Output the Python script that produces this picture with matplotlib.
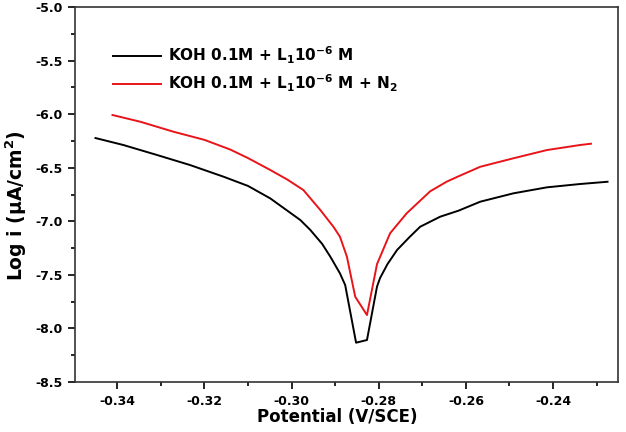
import numpy as np
import matplotlib
matplotlib.use("Agg")
from matplotlib import pyplot as plt
from matplotlib.ticker import MultipleLocator

# Courbes de polarisation
pot_koh = [-0.3450, -0.3386, -0.3309, -0.3233, -0.3156, -0.3100, -0.3049, -0.2980,
           -0.2957, -0.2930, -0.2911, -0.2889, -0.2877, -0.2852, -0.2827, -0.2804,
           -0.2797, -0.2780, -0.2758, -0.2730, -0.2705, -0.2659, -0.2617, -0.2567,
           -0.2491, -0.2414, -0.2338, -0.2275]
log_koh = [-6.223, -6.288, -6.381, -6.475, -6.584, -6.670, -6.786, -6.988,
           -7.081, -7.210, -7.331, -7.486, -7.595, -8.133, -8.108, -7.610,
           -7.530, -7.400, -7.268, -7.150, -7.051, -6.957, -6.901, -6.817,
           -6.739, -6.683, -6.652, -6.631]

pot_n2 = [-0.3411, -0.3347, -0.3271, -0.3200, -0.3141, -0.3100, -0.3049, -0.3010,
          -0.2973, -0.2934, -0.2904, -0.2889, -0.2873, -0.2854, -0.2827, -0.2804,
          -0.2774, -0.2736, -0.2682, -0.2644, -0.2617, -0.2567, -0.2491, -0.2414,
          -0.2338, -0.2313]
log_n2 = [-6.008, -6.071, -6.164, -6.240, -6.330, -6.410, -6.521, -6.610,
          -6.708, -6.895, -7.051, -7.144, -7.331, -7.704, -7.875, -7.400,
          -7.112, -6.926, -6.720, -6.630, -6.580, -6.491, -6.412, -6.335,
          -6.288, -6.276]

lbl_koh = r"KOH 0.1M + L$_\mathbf{1}$10$^\mathbf{-6}$ M"
lbl_n2 = r"KOH 0.1M + L$_\mathbf{1}$10$^\mathbf{-6}$ M + N$_\mathbf{2}$"

plt.rcParams["font.family"] = ["DejaVu Sans"]
plt.rcParams["font.weight"] = "bold"
plt.rcParams["mathtext.fontset"] = "dejavusans"
plt.rcParams["mathtext.default"] = "bf"
plt.rcParams["axes.unicode_minus"] = False

fig = plt.figure(figsize=(6.26, 4.32), dpi=100)
ax = fig.add_axes([0.1198, 0.1157, 0.8674, 0.8681])

ax.plot(pot_koh, log_koh, color="black", lw=1.4, label=lbl_koh)
ax.plot(pot_n2, log_n2, color="#e8141a", lw=1.4, label=lbl_n2)

ax.set_xlim(-0.3497, -0.2251)
ax.set_ylim(-8.5, -5.0)
ax.xaxis.set_major_locator(MultipleLocator(0.02))
ax.xaxis.set_minor_locator(MultipleLocator(0.01))
ax.yaxis.set_major_locator(MultipleLocator(0.5))
ax.yaxis.set_minor_locator(MultipleLocator(0.25))
ax.xaxis.set_major_formatter(plt.FormatStrFormatter("%.2f"))
ax.yaxis.set_major_formatter(plt.FormatStrFormatter("%.1f"))

ax.tick_params(which="both", direction="out", width=1.2, labelsize=9, top=False, right=False)
ax.tick_params(which="major", length=5, pad=4)
ax.tick_params(which="minor", length=3)
for s in ax.spines.values():
    s.set_linewidth(1.2)
    s.set_color("#333333")

ax.set_xlabel("Potential (V/SCE)", fontsize=12, fontweight="bold")
ax.set_ylabel(r"Log i ($\mu$A/cm$^2$)", fontsize=13.5, fontweight="bold")
ax.xaxis.set_label_coords(0.483, -0.068)
ax.yaxis.set_label_coords(-0.084, 0.47)

ax.legend(loc="upper left", bbox_to_anchor=(0.058, 0.917), frameon=False,
          fontsize=11, handlelength=3.2, handletextpad=0.4, labelspacing=0.45,
          borderaxespad=0)

fig.savefig("out.png", dpi=100)
